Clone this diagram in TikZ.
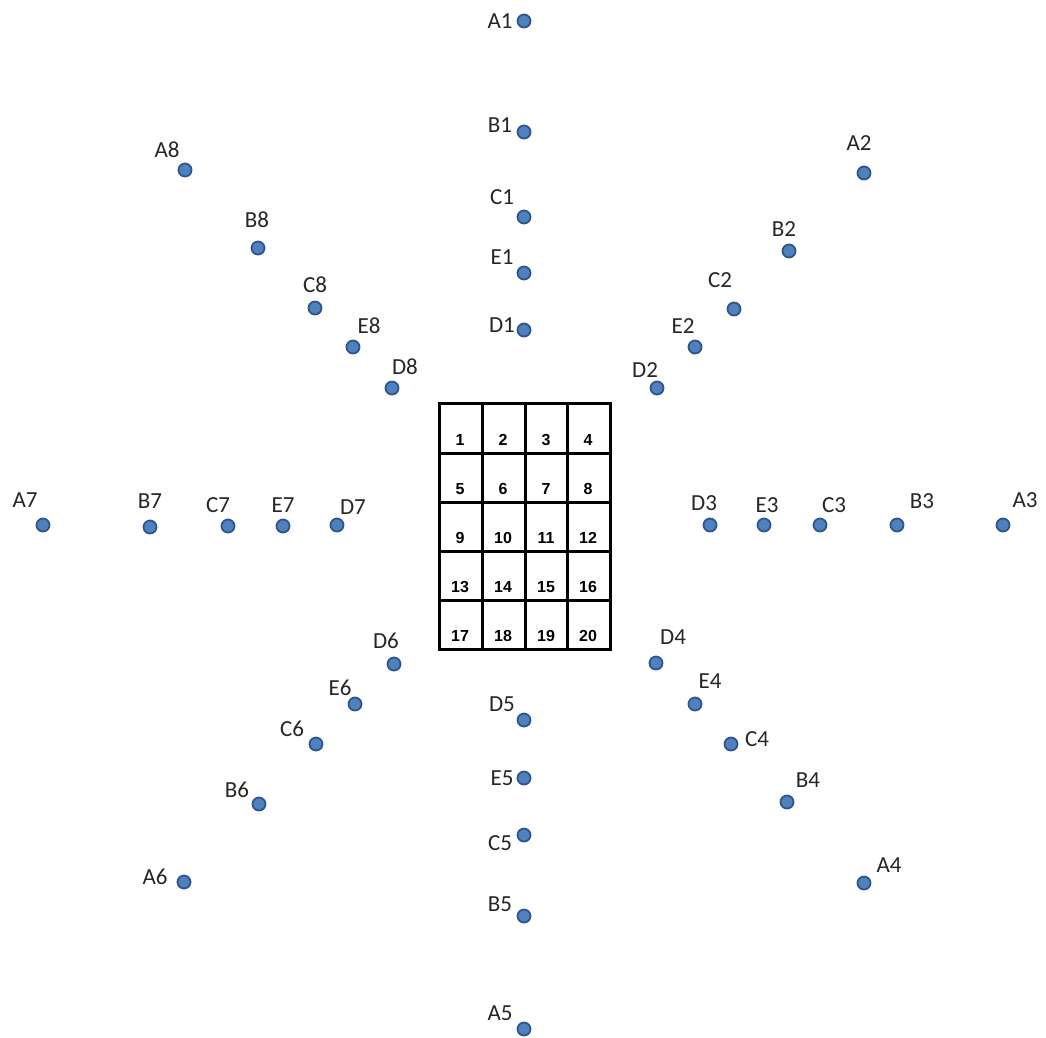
\documentclass[tikz,border=0pt]{standalone}
\usepackage{fontspec}
\setmainfont{Carlito}
\newfontfamily\gridfont{Liberation Sans}
\definecolor{dotfill}{HTML}{4F81BD}
\definecolor{dotline}{HTML}{2F5590}
\begin{document}
\begin{tikzpicture}[x=1pt,y=-1pt,
  pt/.style={circle,fill=dotfill,draw=dotline,line width=1.8pt,minimum size=13pt,inner sep=0pt},
  lab/.style={font=\fontsize{23}{25}\selectfont,inner sep=0pt,text=black!85},
  num/.style={font=\gridfont\bfseries\fontsize{16}{18}\selectfont,inner sep=0pt},
  gridline/.style={line width=3pt,black}]
\useasboundingbox[fill=white] (0,0) rectangle (1046,1037);
% dots and labels: name / dot x / dot y / label x / label y
\foreach \n/\x/\y/\lx/\ly in {
  A1/524/21/500/21, B1/524/132/500/125, C1/524/217/502/197, E1/524/273/502/257, D1/524/330/502/325,
  A2/864/173/859/143, B2/789/251/784/229, C2/734/309/720/280, E2/695/347/683/326, D2/657/388/645/370,
  A3/1003/525/1025/500, B3/897/525/922/501, C3/820/525/834/505, E3/764/525/767/505, D3/710/525/704/503,
  A4/864/883/889/865, B4/787/802/808/780, C4/731/744/757/739, E4/695/704/710/681, D4/656/663/673/637,
  A5/524/1029/500/1013, B5/524/916/500/904, C5/524/835/500/843, E5/524/778/502/778, D5/524/720/502/704,
  A6/184/882/155/877, B6/259/804/237/790, C6/316/744/292/729, E6/355/704/340/688, D6/394/664/386/641,
  A7/43/525/25/500, B7/150/527/150/501, C7/228/526/218/505, E7/283/526/283/505, D7/337/525/353/507,
  A8/185/170/167/150, B8/258/248/257/220, C8/315/308/315/285, E8/353/347/369/326, D8/392/388/405/367} {
  \node[pt] (\n) at (\x,\y) {};
  \node[lab] (l\n) at (\lx,\ly) {\n};
}
% grid
\coordinate (g0) at (439,403);
\coordinate (g1) at (610,649);
\draw[gridline] (g0) rectangle (g1);
\foreach \gx in {482,525,567} \draw[gridline] (\gx,403) -- (\gx,649);
\foreach \gy in {453,502,551,600} \draw[gridline] (439,\gy) -- (610,\gy);
\foreach \r/\cy in {0/440,1/489,2/538,3/587,4/636} {
  \foreach \c/\cx in {1/460,2/503,3/546,4/588} {
    \pgfmathtruncatemacro{\k}{\r*4+\c}
    \node[num] (n\k) at (\cx,\cy) {\k};
  }
}
\end{tikzpicture}
\end{document}
